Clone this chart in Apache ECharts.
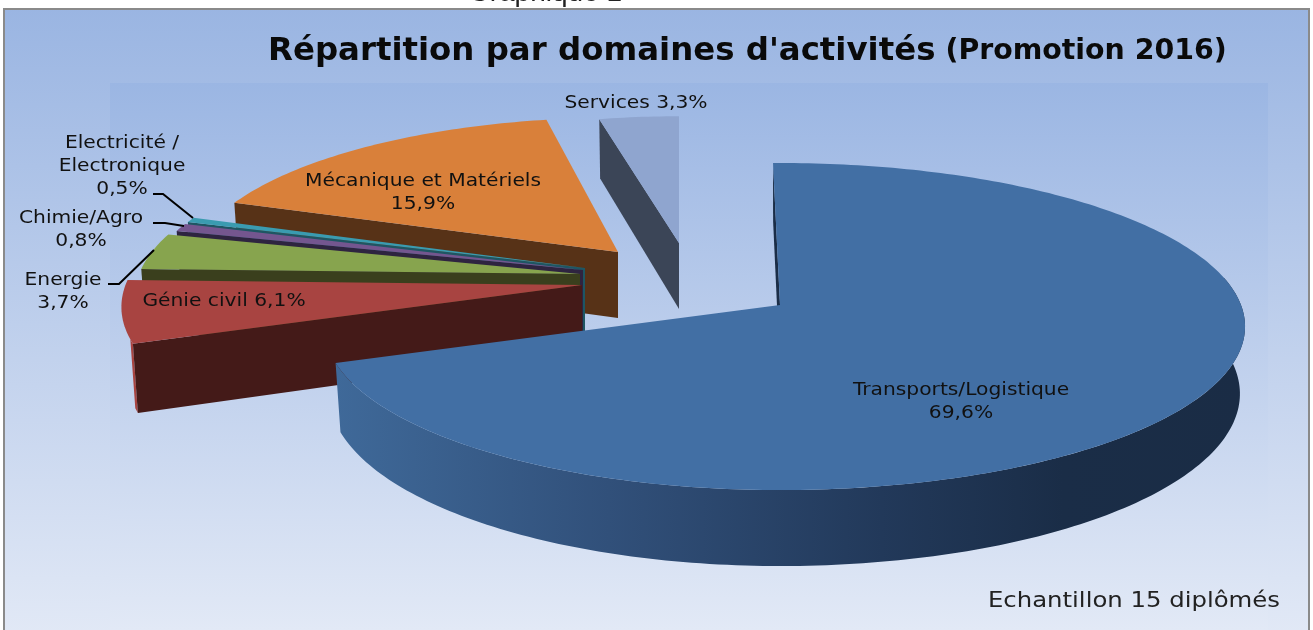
<!DOCTYPE html>
<html>
<head>
<meta charset="utf-8">
<title>Répartition par domaines d'activités</title>
<script src="https://cdn.jsdelivr.net/npm/echarts@6/dist/echarts.min.js"></script>
<style>
  html, body { margin: 0; padding: 0; background: #fff; overflow: hidden; }
  #main { width: 1313px; height: 630px; }
</style>
</head>
<body>
<div id="main"></div>
<script>
// data, clockwise from the top of the pie
const categories = ['Transports/Logistique', 'Génie civil', 'Energie', 'Chimie/Agro', 'Electricité /\nElectronique', 'Mécanique et Matériels', 'Services'];
const values = [69.6, 6.1, 3.7, 0.8, 0.5, 15.9, 3.3];
const labelSeparators = ['\n', ' ', '\n', '\n', '\n', '\n', ' '];

// colours per slice
const topColors = ['#426fa4', '#a84441', '#87a44e', '#74568f', '#3a9bb0', '#d9803a', '#8fa5cf'];
const wallColors = ['#1a2d47', '#441a18', '#3a3f1d', '#2e2440', '#1e5663', '#573217', '#3b4557'];

// 3d look : exploded positions of each slice tip, radius factor, small end angle correction
const tips = [[780, 305], [582, 285], [580, 274], [583, 270], [585, 268], [618, 252], [679, 243]];
const radiusFactor = [1, 1.01, 0.975, 0.962, 0.96, 0.94, 0.88];
const endNudge = [0, 0, 0, 0, 0, 2, 1];
const labelPos = [[961, 402], [224, 302], [63, 292], [81, 230], [122, 167], [423, 193], [636, 104]];
const leaders = [
  null, null,
  [[108, 284], [119, 284], [154, 250]],
  [[153, 223], [165, 223], [184, 226]],
  [[153, 194], [163, 194], [193, 218]],
  null, null
];
const startAngle = -1, rxLeft = 452, rxRight = 461, ry = 160.7, persp = 0.1316, depth = 66, bottomShrink = 0.989;

const total = values.reduce((a, b) => a + b, 0);
const angles = [];
let acc = startAngle;
values.forEach((v, i) => {
  angles.push([acc, acc + v / total * 360 + endNudge[i]]);
  acc += v / total * 360;
});

function pt(i, deg, r, down) {
  const a = deg * Math.PI / 180;
  const X = r * radiusFactor[i] * Math.sin(a);
  const Y = r * radiusFactor[i] * Math.cos(a);
  const f = 1 / (1 + persp * Y);
  const s = down ? bottomShrink : 1;
  const rx = X > 0 ? rxRight : rxLeft;
  return [tips[i][0] + X * rx * f * s, tips[i][1] - Y * ry * f + (down ? depth * f : 0)];
}

function arc(i, from, to, down) {
  const pts = [];
  const n = Math.max(2, Math.ceil(Math.abs(to - from)));
  for (let k = 0; k <= n; k++) pts.push(pt(i, from + (to - from) * k / n, 1, down));
  return pts;
}

function pctText(v) {
  return v.toFixed(1).replace('.', ',') + '%';
}

const transportWall = {
  type: 'linear', x: 0, y: 0, x2: 1, y2: 0,
  colorStops: [
    { offset: 0, color: '#3f6999' },
    { offset: 0.3, color: '#31507a' },
    { offset: 0.6, color: '#22395a' },
    { offset: 0.8, color: '#1a2d47' },
    { offset: 1, color: '#1a2c45' }
  ]
};

function renderSlice(params, api) {
  const i = api.value(1);
  const from = angles[i][0], to = angles[i][1];
  const kids = [];
  // outer wall : the big slice gets all of it, the red one only a thin edge
  const wFrom = Math.max(from, 80), wTo = i === 0 ? Math.min(to, 270) : Math.min(to, from + 1.5);
  if (wTo > wFrom && wFrom < 270) {
    kids.push({
      type: 'polygon',
      shape: { points: arc(i, wFrom, wTo, false).concat(arc(i, wTo, wFrom, true)) },
      style: { fill: i === 0 ? transportWall : topColors[i] }
    });
  }
  // cut face
  kids.push({
    type: 'polygon',
    shape: { points: [pt(i, from, 0, false), pt(i, from, 1, false), pt(i, from, 1, true), pt(i, from, 0, true)] },
    style: { fill: wallColors[i] }
  });
  // top
  kids.push({
    type: 'polygon',
    shape: { points: [pt(i, from, 0, false)].concat(arc(i, from, to, false)) },
    style: { fill: topColors[i] }
  });
  // leader line + label
  if (leaders[i]) {
    kids.push({
      type: 'polyline',
      shape: { points: leaders[i] },
      style: { stroke: '#000', lineWidth: 2, fill: 'none' }
    });
  }
  kids.push({
    type: 'text',
    z2: 50,
    x: labelPos[i][0],
    y: labelPos[i][1],
    scaleX: 1.19,
    style: {
      x: 0, y: 0,
      text: categories[i] + labelSeparators[i] + pctText(api.value(0)),
      font: '17px "DejaVu Sans"',
      lineHeight: 23,
      fill: '#111',
      align: 'center',
      verticalAlign: 'middle'
    }
  });
  return { type: 'group', children: kids };
}

const chart = echarts.init(document.getElementById('main'));
const seriesData = values.map((v, i) => [v, i]).reverse();

chart.setOption({
  animation: false,
  title: {
    left: 263,
    top: 31,
    text: "{a|Répartition par domaines d'activités}{b|(Promotion 2016)}",
    textStyle: {
      rich: {
        a: { fontFamily: 'DejaVu Sans', fontWeight: 'bold', fontSize: 32.4, color: '#0a0a0a' },
        b: { fontFamily: 'DejaVu Sans', fontWeight: 'bold', fontSize: 28.4, color: '#0a0a0a', padding: [0, 0, 0, 10] }
      }
    }
  },
  graphic: [
    {
      type: 'rect', z: -3,
      shape: { x: 4, y: 9, width: 1305, height: 630 },
      style: {
        stroke: '#8a8a8a', lineWidth: 2,
        fill: { type: 'linear', x: 0, y: 0, x2: 0, y2: 1, colorStops: [{ offset: 0, color: '#9ab5e2' }, { offset: 1, color: '#e2e9f6' }] }
      }
    },
    {
      type: 'rect', z: -2,
      shape: { x: 110, y: 83, width: 1158, height: 547 },
      style: {
        fill: { type: 'linear', x: 0, y: 0, x2: 0, y2: 1, colorStops: [{ offset: 0, color: '#9bb6e3' }, { offset: 1, color: '#e2e9f6' }] }
      }
    },
    {
      type: 'text', z: 5,
      style: { x: 545, y: -21, text: 'Graphique 1', font: '28px "Liberation Sans"', fill: '#222', align: 'center', verticalAlign: 'top' }
    },
    {
      type: 'text', z: 5,
      x: 1280, y: 602, scaleX: 1.16,
      style: { x: 0, y: 0, text: 'Echantillon 15 diplômés', font: '21px "DejaVu Sans"', fill: '#222', align: 'right', verticalAlign: 'middle' }
    }
  ],
  series: [{
    type: 'custom',
    coordinateSystem: 'none',
    silent: true,
    renderItem: renderSlice,
    data: seriesData
  }]
});
</script>
</body>
</html>
